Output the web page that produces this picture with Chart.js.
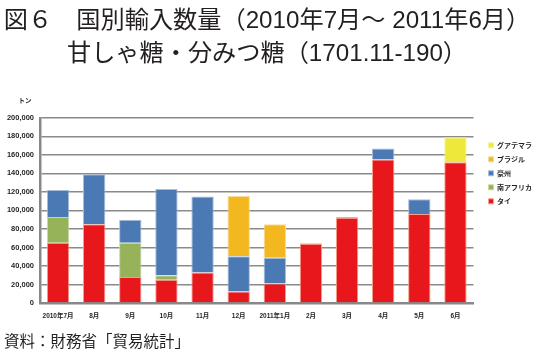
<!DOCTYPE html>
<html><head><meta charset="utf-8">
<script src="https://cdn.jsdelivr.net/npm/chart.js@4/dist/chart.umd.min.js"></script>
<style>
html,body{margin:0;padding:0;background:#fff;}
#wrap{position:relative;width:536px;height:355px;overflow:hidden;}
#src{position:absolute;left:4px;top:333px;font-family:"Noto Sans CJK JP";font-size:15.5px;color:#231f20;line-height:1;white-space:nowrap;}
</style></head>
<body>
<div id="wrap"><canvas id="c" width="536" height="355"></canvas><div id="src">資料：財務省「貿易統計」</div></div>
<script>
const titleLines = ['図６　国別輸入数量（2010年7月～ 2011年6月）', '甘しゃ糖・分みつ糖（1701.11-190）'];
const unitLabel = 'トン';
const months = ['2010年7月','8月','9月','10月','11月','12月','2011年1月','2月','3月','4月','5月','6月'];
const thai        = [65000, 85000, 28000, 25000, 33000, 12500, 21000, 64000, 92000, 155000, 96000, 152000];
const southAfrica = [28000, null, 37000, 5000, null, null, null, null, null, null, null, null];
const australia   = [29000, 54000, 25000, 93000, 82000, 38000, 28000, null, 1000, 12000, 16000, null];
const brazil      = [null, null, null, null, null, 65000, 36000, 1000, null, null, null, null];
const guatemala   = [null, null, null, null, null, null, null, null, null, null, null, 27000];
const yTicksMax = 200000, yStep = 20000;

const ds = (label, data, color, border) => ({label, data, backgroundColor: color, borderColor: border, borderWidth: 1, borderSkipped: 'bottom', stack: 's'});

const extras = {
  id: 'extras',
  afterLayout(chart) {
    const lg = chart.legend, ca = chart.chartArea;
    lg.left = ca.right + 8;
    lg.top = ca.top + 17;
  },
  afterDraw(chart) {
    const ctx = chart.ctx, ca = chart.chartArea;
    ctx.save();
    ctx.font = 'bold 6.5px "Noto Sans CJK JP"';
    ctx.fillStyle = '#231f20';
    ctx.textAlign = 'center';
    ctx.textBaseline = 'middle';
    ctx.fillText(unitLabel, ca.left - 15, ca.top - 17);
    ctx.restore();
  }
};

new Chart(document.getElementById('c'), {
  type: 'bar',
  data: {
    labels: months,
    datasets: [
      ds('タイ', thai, '#E8171B', '#F2A08A'),
      ds('南アフリカ', southAfrica, '#97B35A', '#C8D8A8'),
      ds('豪州', australia, '#4A79B3', '#A9BEDC'),
      ds('ブラジル', brazil, '#F3B81F', '#F8DB9A'),
      ds('グアテマラ', guatemala, '#EEE83A', '#F5F1A0')
    ]
  },
  options: {
    responsive: false,
    animation: false,
    devicePixelRatio: 1,
    layout: {padding: {left: 0, right: 2, top: 0, bottom: 32}},
    datasets: {bar: {categoryPercentage: 1, barPercentage: 0.62}},
    plugins: {
      title: {
        display: true, text: titleLines, color: '#231f20',
        font: {family: '"Liberation Sans", "Noto Sans CJK JP"', size: 24.2, weight: '400', lineHeight: 1.36},
        padding: {top: 5, bottom: 47}
      },
      legend: {
        position: 'right', align: 'start', reverse: true, fullSize: false,
        labels: {boxWidth: 5, boxHeight: 5, padding: 7, color: '#231f20',
          font: {family: '"Noto Sans CJK JP"', size: 7, weight: 'bold'}}
      },
      tooltip: {enabled: false}
    },
    scales: {
      x: {
        stacked: true,
        grid: {display: false},
        border: {display: true, color: '#888', width: 2.5},
        ticks: {maxRotation: 0, autoSkip: false, padding: 1, color: '#231f20',
          font: {family: '"Liberation Sans", "Noto Sans CJK JP"', size: 6.5, weight: 'bold'}},
        afterFit(s) { s.height = 20; }
      },
      y: {
        stacked: true, min: 0, max: yTicksMax,
        grid: {color: '#8a8a8a', lineWidth: 1.5, drawTicks: false},
        border: {display: true, color: '#888', width: 2.5},
        ticks: {stepSize: yStep, padding: 6, color: '#231f20',
          font: {family: '"Liberation Sans"', size: 7.5, weight: 'bold'},
          callback: v => v.toLocaleString('en-US')},
        afterFit(s) { s.width = 40; }
      }
    }
  },
  plugins: [extras]
});
</script>
</body></html>
